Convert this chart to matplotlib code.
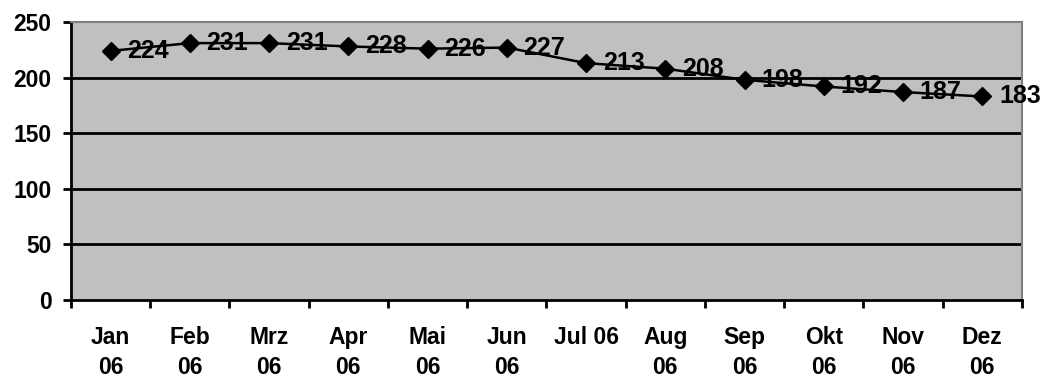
import matplotlib.pyplot as plt
import numpy as np

months = ['Jan\n06', 'Feb\n06', 'Mrz\n06', 'Apr\n06', 'Mai\n06', 'Jun\n06',
          'Jul 06', 'Aug\n06', 'Sep\n06', 'Okt\n06', 'Nov\n06', 'Dez\n06']
values = [224, 231, 231, 228, 226, 227, 213, 208, 198, 192, 187, 183]
y_ticks = [0, 50, 100, 150, 200, 250]

plt.rcParams['font.family'] = ['Liberation Sans', 'DejaVu Sans']
plt.rcParams['font.weight'] = 'bold'

fig = plt.figure(figsize=(10.5, 3.81), dpi=100)
ax = fig.add_axes([0.0676, 0.2126, 0.9057, 0.7297])
ax.set_facecolor('#c0c0c0')

x = np.arange(len(values))

# horizontal grid lines in black
for t in y_ticks[1:-1]:
    ax.axhline(t, color='black', lw=2, zorder=1)

ax.plot(x, values, color='black', lw=1.8, marker='D', markersize=9,
        zorder=3, clip_on=False)

for xi, v in zip(x, values):
    ax.annotate(str(v), (xi, v), xytext=(12, 0), textcoords='offset points',
                ha='left', va='center', fontsize=18, fontweight='bold',
                zorder=4, annotation_clip=False)

ax.set_xlim(-0.5, len(values) - 0.5)
ax.set_ylim(0, 250)
ax.set_yticks(y_ticks)
ax.set_yticklabels([str(t) for t in y_ticks], fontsize=16.5, fontweight='bold')

ax.set_xticks(x)
ax.set_xticklabels(months, fontsize=16.5, fontweight='bold', linespacing=1.35)
ax.set_xticks(np.arange(len(values) + 1) - 0.5, minor=True)
ax.tick_params(axis='x', which='major', length=0, pad=19)
ax.tick_params(axis='x', which='minor', length=6, width=2, direction='out')
ax.tick_params(axis='y', length=6, width=2, direction='out', pad=8)

ax.spines['left'].set_linewidth(2)
ax.spines['bottom'].set_linewidth(2)
ax.spines['top'].set_color('#808080')
ax.spines['right'].set_color('#808080')
ax.spines['top'].set_linewidth(1.5)
ax.spines['right'].set_linewidth(1.5)

fig.savefig('out.png', dpi=100, facecolor='white')
